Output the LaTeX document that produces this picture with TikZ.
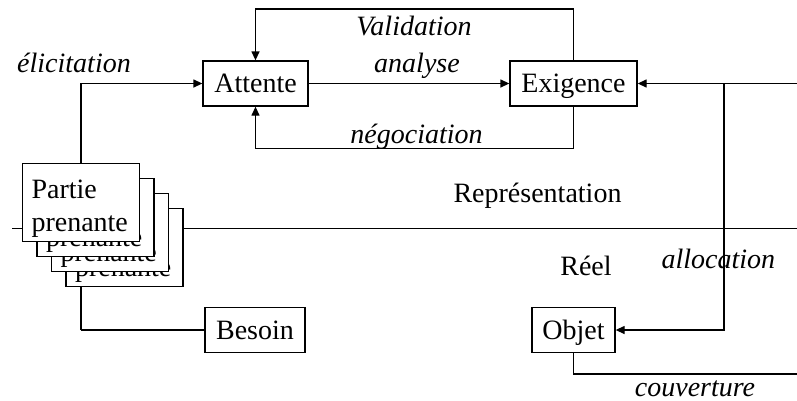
\documentclass[tikz,border=0pt]{standalone}
\usepackage{fontspec}
\setmainfont{Liberation Serif}
\usetikzlibrary{arrows.meta}
\begin{document}
\begin{tikzpicture}[x=1pt,y=-1pt,
  every node/.style={font=\fontsize{28}{33}\selectfont},
  ln/.style={line width=1.3pt,line join=miter},
  arr/.style={ln,-{Triangle[length=9pt,width=8pt]}},
  box/.style={draw,line width=1.3pt,fill=white,inner sep=0pt,text height=18pt,text depth=0pt,minimum height=45pt},
  card/.style={draw,line width=1.3pt,fill=white,minimum width=117pt,minimum height=78pt,text width=99pt,inner xsep=9pt,inner ysep=0pt,align=left},
  lab/.style={anchor=base,inner sep=0pt,font=\fontsize{28}{33}\selectfont\itshape},
  plain/.style={anchor=base,inner sep=0pt}]
\useasboundingbox (0,0) rectangle (797,400);
% main boxes
\node[box,minimum width=105pt] (att) at (255.5,83.5) {Attente};
\node[box,minimum width=127pt] (exi) at (573.5,83.5) {Exigence};
\node[box,minimum width=83pt] (obj) at (573.5,330) {Objet};
\node[box,minimum width=100pt] (bes) at (255,330) {Besoin};
% coordinates
\coordinate (tl) at (573.5,9);
\coordinate (bl) at (573.5,148.5);
\coordinate (rin) at (797,83.5);
\coordinate (aj) at (724,83.5);
\coordinate (rout) at (797,374);
\coordinate (sl) at (12,228.5);
\coordinate (sr) at (797,228.5);
\coordinate (elx) at (81,83.5);
\coordinate (besy) at (81,330);
% separator
\draw[ln] (sl) -- (sr);
% connectors
\draw[arr] (att) -- (exi);
\draw[arr] (exi.north) -- (tl) -| (att.north);
\draw[arr] (exi.south) -- (bl) -| (att.south);
\draw[arr] (rin) -- (exi.east);
\draw[arr] (aj) |- (obj.east);
\draw[ln] (obj.south) |- (rout);
\draw[arr] (besy) -- (elx) -- (att.west);
\draw[ln] (besy) -- (bes.west);
% stack of cards
\node[card] (c4) at (124.5,247.5) {\rule{0pt}{31pt}Partie\\prenante};
\node[card] (c3) at (110,232.5) {\rule{0pt}{31pt}Partie\\prenante};
\node[card] (c2) at (95.5,217.5) {\rule{0pt}{31pt}Partie\\prenante};
\node[card] (c1) at (81,202.5) {\rule{0pt}{31pt}Partie\\prenante};
% labels
\node[lab] (lel) at (74,72) {élicitation};
\node[lab] (lval) at (414,35) {Validation};
\node[lab] (lana) at (417,72.5) {analyse};
\node[lab] (lneg) at (416.5,143.5) {négociation};
\node[plain] (lrep) at (537.5,202.7) {Représentation};
\node[plain] (lree) at (586,275) {Réel};
\node[lab] (lall) at (718.3,268.3) {allocation};
\node[lab] (lcou) at (695,396.5) {couverture};
\end{tikzpicture}
\end{document}
